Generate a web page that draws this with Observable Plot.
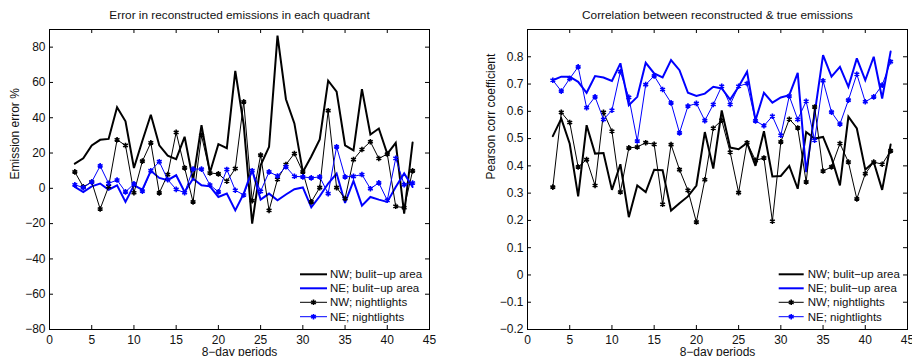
<!DOCTYPE html>
<html>
<head>
<meta charset="utf-8">
<script src="https://cdn.jsdelivr.net/npm/d3@7"></script>
<script src="https://cdn.jsdelivr.net/npm/@observablehq/plot@0.6"></script>
<style>
  html, body { margin: 0; padding: 0; background: #fff; }
  #wrap { display: flex; width: 912px; height: 356px; overflow: hidden; }
  #wrap svg { overflow: visible; }
</style>
</head>
<body>
<div id="wrap"></div>
<script>
// 8-day periods
const periods = [3,4,5,6,7,8,9,10,11,12,13,14,15,16,17,18,19,20,21,22,23,24,25,26,27,28,29,30,31,32,33,34,35,36,37,38,39,40,41,42,43];

// Left panel: emission error %
const errNWBuilt = [14.0,17.0,24.3,27.5,28.0,45.9,38.0,11.5,27.0,41.7,24.4,18.5,16.5,29.2,4.5,35.8,9.0,25.0,22.7,66.5,36.0,-20.0,13.0,23.5,86.5,50.5,36.8,9.3,18.0,27.7,61.0,54.8,24.4,21.5,56.2,30.5,33.9,19.5,25.8,-14.4,26.0];
const errNEBuilt = [0.8,-2.1,1.1,2.7,-0.8,1.7,-7.7,1.7,-0.8,9.9,5.9,4.6,7.4,-2.1,5.5,1.7,1.1,-4.9,-3.0,-12.5,-3.0,10.3,-6.4,-3.0,-6.8,-3.5,-0.5,0.5,-10.8,-4.5,2.7,8.4,-8.3,4.2,-9.8,-4.9,-6.4,-7.7,0.8,8.4,0.8];
const errNWNight = [9.3,0.8,3.6,-11.7,1.0,27.5,24.3,-2.5,15.4,25.8,-2.6,7.8,31.7,11.6,-7.7,30.0,8.7,8.2,4.0,11.2,49.0,-7.0,18.8,-12.5,5.1,13.5,19.7,9.3,-7.7,0.4,44.0,0.4,-5.8,16.3,22.0,26.4,16.9,19.4,-10.2,-11.0,9.9];
const errNENight = [2.0,0.4,3.6,12.7,2.8,4.7,-2.0,2.5,-1.6,10.0,15.1,4.9,-0.6,-2.5,10.9,10.9,1.9,-2.0,10.7,-1.1,-3.8,10.0,-1.7,9.3,7.0,12.2,6.8,6.5,5.9,6.5,-3.0,23.5,6.5,6.8,7.8,-0.2,3.1,-6.8,17.0,2.1,3.0];

// Right panel: Pearson correlation
const corrNWBuilt = [0.509,0.573,0.481,0.288,0.549,0.445,0.447,0.312,0.406,0.212,0.328,0.304,0.386,0.384,0.236,0.263,0.288,0.328,0.524,0.390,0.603,0.467,0.461,0.484,0.400,0.527,0.361,0.363,0.400,0.316,0.524,0.500,0.506,0.430,0.328,0.580,0.537,0.386,0.414,0.312,0.478];
const corrNEBuilt = [0.714,0.727,0.727,0.708,0.668,0.729,0.724,0.711,0.776,0.622,0.653,0.778,0.739,0.724,0.788,0.751,0.668,0.656,0.665,0.690,0.684,0.643,0.690,0.745,0.567,0.668,0.632,0.651,0.659,0.741,0.377,0.590,0.806,0.727,0.763,0.690,0.794,0.714,0.800,0.647,0.819];
const corrNWNight = [0.322,0.596,0.559,0.396,0.423,0.328,0.596,0.527,0.304,0.466,0.469,0.485,0.479,0.259,0.478,0.386,0.310,0.194,0.349,0.538,0.567,0.450,0.302,0.485,0.420,0.429,0.197,0.488,0.571,0.539,0.341,0.616,0.381,0.396,0.482,0.414,0.279,0.371,0.414,0.406,0.455];
const corrNENight = [0.714,0.674,0.720,0.763,0.613,0.653,0.570,0.604,0.745,0.651,0.491,0.698,0.730,0.680,0.631,0.521,0.619,0.629,0.566,0.625,0.692,0.625,0.692,0.702,0.565,0.547,0.582,0.512,0.656,0.570,0.637,0.494,0.712,0.597,0.553,0.641,0.736,0.635,0.653,0.696,0.782];

// Ticks and labels
const xTicks = [0,5,10,15,20,25,30,35,40,45];
const errTicks = [-80,-60,-40,-20,0,20,40,60,80];
const corrTicks = [-0.2,-0.1,0,0.1,0.2,0.3,0.4,0.5,0.6,0.7,0.8];
const seriesNames = ["NW; bulit\u2212up area","NE; bulit\u2212up area","NW; nightlights","NE; nightlights"];
const xLabel = "8\u2212day periods";

const BLACK = "#000000", BLUE = "#0000ff";
const styles = [
  {stroke: BLACK, width: 2, marker: false},
  {stroke: BLUE, width: 2, marker: false},
  {stroke: BLACK, width: 1, marker: true},
  {stroke: BLUE, width: 1, marker: true}
];

const W = 456, H = 356, MT = 29, MB = 27;
const FONT = "'Liberation Sans', Arial, Helvetica, sans-serif";

function panel({series, yDomain, yTicks, yFormat, title, yLabel, ml, mr, yLabelDx, legend}) {
  const fw = W - ml - mr, fh = H - MT - MB;
  const marks = [
    Plot.tickX(xTicks, {x: d => d, insetTop: fh - 4, stroke: "#000"}),
    Plot.tickX(xTicks, {x: d => d, insetBottom: fh - 4, stroke: "#000"}),
    Plot.tickY(yTicks, {y: d => d, insetRight: fw - 4, stroke: "#000"}),
    Plot.tickY(yTicks, {y: d => d, insetLeft: fw - 4, stroke: "#000"}),
    Plot.axisX(xTicks, {tickSize: 0, tickPadding: 6, label: null, fontSize: 12}),
    Plot.axisY(yTicks, {tickSize: 0, tickPadding: 4, label: null, tickFormat: yFormat, fontSize: 12})
  ];
  series.forEach((vals, i) => {
    const s = styles[i];
    marks.push(Plot.line(vals, {x: periods, y: d => d, stroke: s.stroke, strokeWidth: s.width, strokeLinejoin: "miter", strokeMiterlimit: 3}));
    if (s.marker) marks.push(Plot.dot(vals, {x: periods, y: d => d, symbol: "asterisk", r: 2.6, stroke: s.stroke, strokeWidth: 1.6}));
  });
  marks.push(Plot.frame({stroke: "#000", strokeWidth: 1}));
  marks.push(Plot.text([title], {text: d => d, frameAnchor: "top", dy: -14, lineAnchor: "middle", fontSize: 11.8, fill: "#111"}));
  marks.push(Plot.text([xLabel], {text: d => d, frameAnchor: "bottom", dy: 23, lineAnchor: "middle", fontSize: 12, fill: "#111"}));
  marks.push(Plot.text([yLabel], {text: d => d, frameAnchor: "left", dx: yLabelDx, rotate: -90, lineAnchor: "middle", fontSize: 12, fill: "#111"}));

  const svg = Plot.plot({
    width: W, height: H,
    marginLeft: ml, marginRight: mr, marginTop: MT, marginBottom: MB,
    style: {fontFamily: FONT, fontSize: "12px", color: "#111", background: "transparent", overflow: "visible"},
    x: {domain: [0, 45]},
    y: {domain: yDomain},
    marks
  });

  // Legend (layout only)
  const g = d3.select(svg).append("g")
    .attr("font-family", FONT).attr("font-size", 11.5).attr("text-anchor", "start");
  const rowsY = [274.3, 288.3, 302.3, 316.7];
  seriesNames.forEach((name, i) => {
    const s = styles[i], y = rowsY[i];
    g.append("line").attr("x1", legend.x1).attr("x2", legend.x2).attr("y1", y).attr("y2", y)
      .attr("stroke", s.stroke).attr("stroke-width", s.width);
    if (s.marker) {
      g.append("path").attr("d", d3.symbol(d3.symbolAsterisk, 2.6 * 2.6 * Math.PI)())
        .attr("transform", `translate(${(legend.x1 + legend.x2) / 2},${y})`)
        .attr("fill", "none").attr("stroke", s.stroke).attr("stroke-width", 1.6);
    }
    g.append("text").attr("x", legend.tx).attr("y", y).attr("dy", "0.35em")
      .attr("text-anchor", "start").attr("fill", "#111").text(name);
  });
  return svg;
}

const fmtCorr = d => Math.abs(d) < 1e-9 ? "0" : d3.format(".1f")(d);

const wrap = document.getElementById("wrap");
wrap.appendChild(panel({
  series: [errNWBuilt, errNEBuilt, errNWNight, errNENight],
  yDomain: [-80, 90], yTicks: errTicks, yFormat: d3.format("d"),
  title: "Error in reconstructed emissions in each quadrant",
  yLabel: "Emission error %",
  ml: 49, mr: 27, yLabelDx: -34,
  legend: {x1: 300, x2: 327, tx: 330}
}));
wrap.appendChild(panel({
  series: [corrNWBuilt, corrNEBuilt, corrNWNight, corrNENight],
  yDomain: [-0.2, 0.9], yTicks: corrTicks, yFormat: fmtCorr,
  title: "Correlation between reconstructed & true emissions",
  yLabel: "Pearson corr coefficient",
  ml: 71, mr: 5, yLabelDx: -36,
  legend: {x1: 322.7, x2: 347.7, tx: 351.7}
}));
</script>
</body>
</html>
